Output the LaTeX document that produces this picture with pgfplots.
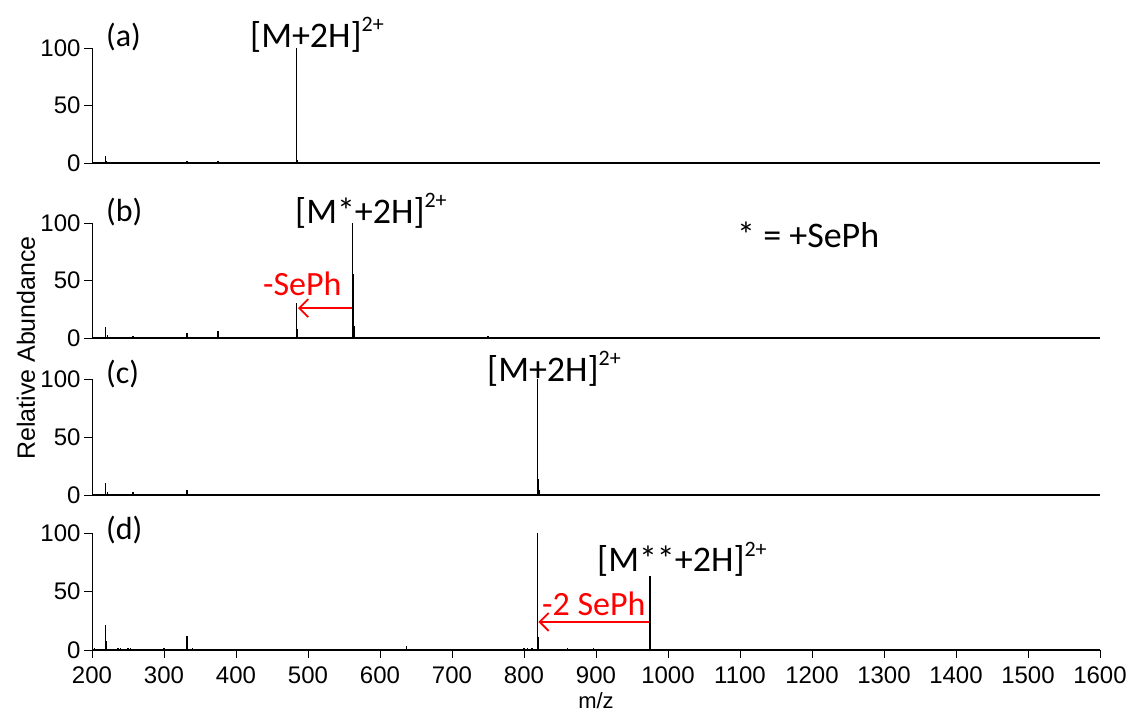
\documentclass[border=0pt]{standalone}
\usepackage{fontspec}
\setmainfont{Carlito}
\newfontfamily\arialfont{Liberation Sans}
\usepackage{pgfplots}
\pgfplotsset{compat=1.18}
\usetikzlibrary{arrows.meta}

\newcommand{\ion}[2]{{\fontsize{36}{36}\selectfont #1}\raisebox{16pt}{\fontsize{22}{22}\selectfont #2}}

\pgfplotsset{
 spec/.style={
   scale only axis, width=1008pt, height=115pt,
   xmin=200, xmax=1600, ymin=0, ymax=100,
   axis x line=bottom, axis y line=left,
   axis line style={-},
   x axis line style={line width=1.6pt},
   y axis line style={line width=0.9pt},
   ytick={0,50,100}, xtick={200,300,...,1600},
   tick align=outside, major tick length=8pt,
   tick style={black, line width=0.9pt},
   tick label style={font=\arialfont\fontsize{24}{24}\selectfont},
   x tick label style={yshift=-5pt},
   /pgf/number format/assume math mode=true,
   /pgf/number format/1000 sep={},
   clip=false,
   anchor=south west,
 },
 peaks/.style={ycomb, black, line width=1.2pt},
}

\begin{document}
\begin{tikzpicture}[x=1pt,y=1pt]
\useasboundingbox (0,0) rectangle (1136,713);

% (a)
\begin{axis}[spec, at={(92pt,550pt)}, xtick=\empty]
\addplot[peaks] coordinates {(202,1) (219,6) (220,2) (257,0.8) (332,1.5) (375,1.5) (484,100) (485,3) (550,0.5) (605,0.5)};
\end{axis}

% (b)
\begin{axis}[spec, at={(92pt,375pt)}, xtick=\empty]
\addplot[peaks] coordinates {(202,1) (219,9.5) (221,3) (257,1.5) (300,0.5) (332,4) (375,6) (433,1) (484,30) (485.5,8) (562,100) (563,56) (564,10) (750,1.5) (805,0.7)};
\draw[red, line width=1.8pt, -{Straight Barb[length=9pt,width=18pt,line width=1.8pt]}] (axis cs:561,26) -- (axis cs:486,26);
\end{axis}

% (c)
\begin{axis}[spec, at={(92pt,218pt)}, height=116pt, xtick=\empty]
\addplot[peaks] coordinates {(202,1) (219,10) (221,3) (240,1) (257,3) (300,0.7) (310,0.5) (332,4) (342,0.5) (797,1) (808,1) (819,100) (820,14) (821,4)};
\end{axis}

% (d)
\begin{axis}[spec, at={(92pt,63pt)}, height=117pt]
\addplot[peaks] coordinates {(201,4) (203,2) (219,21) (220,8) (236,2) (240,1.5) (250,1.5) (254,2) (300,1.5) (310,1) (320,1) (332,12) (333,4) (340,1.5) (345,1) (637,3.5) (782,1) (800,1.5) (805,2) (811,2) (819,100) (820,11) (860,1.5) (897,1.5) (974,8) (975,63) (976,6)};
\draw[red, line width=1.8pt, -{Straight Barb[length=9pt,width=18pt,line width=1.8pt]}] (axis cs:974,24) -- (axis cs:820,24);
\end{axis}

% panel letters
\node[anchor=base west, inner sep=0, font=\fontsize{32}{32}\selectfont] at (106,666) {(a)};
\node[anchor=base west, inner sep=0, font=\fontsize{32}{32}\selectfont] at (106,491) {(b)};
\node[anchor=base west, inner sep=0, font=\fontsize{32}{32}\selectfont] at (106,329) {(c)};
\node[anchor=base west, inner sep=0, font=\fontsize{32}{32}\selectfont] at (106,173) {(d)};

% ion labels
\node[anchor=base west, inner sep=0] at (250,665) {\ion{[M+2H]}{2+}};
\node[anchor=base west, inner sep=0] at (295,489) {\ion{[M*+2H]}{2+}};
\node[anchor=base west, inner sep=0] at (487,331) {\ion{[M+2H]}{2+}};
\node[anchor=base west, inner sep=0] at (597,141) {\ion{[M**+2H]}{2+}};
\node[anchor=base west, inner sep=0, font=\fontsize{36}{36}\selectfont] at (737,465) {* = +SePh};
\node[anchor=base west, inner sep=0, text=red, font=\fontsize{34}{34}\selectfont] at (263,417) {-SePh};
\node[anchor=base west, inner sep=0, text=red, font=\fontsize{34}{34}\selectfont] at (542,98) {-2 SePh};

% axis titles
\node[rotate=90, font=\arialfont\fontsize{25}{25}\selectfont] at (26,365) {Relative Abundance};
\node[anchor=base, inner sep=0, font=\arialfont\fontsize{22}{22}\selectfont] at (596,5) {m/z};
\end{tikzpicture}
\end{document}
